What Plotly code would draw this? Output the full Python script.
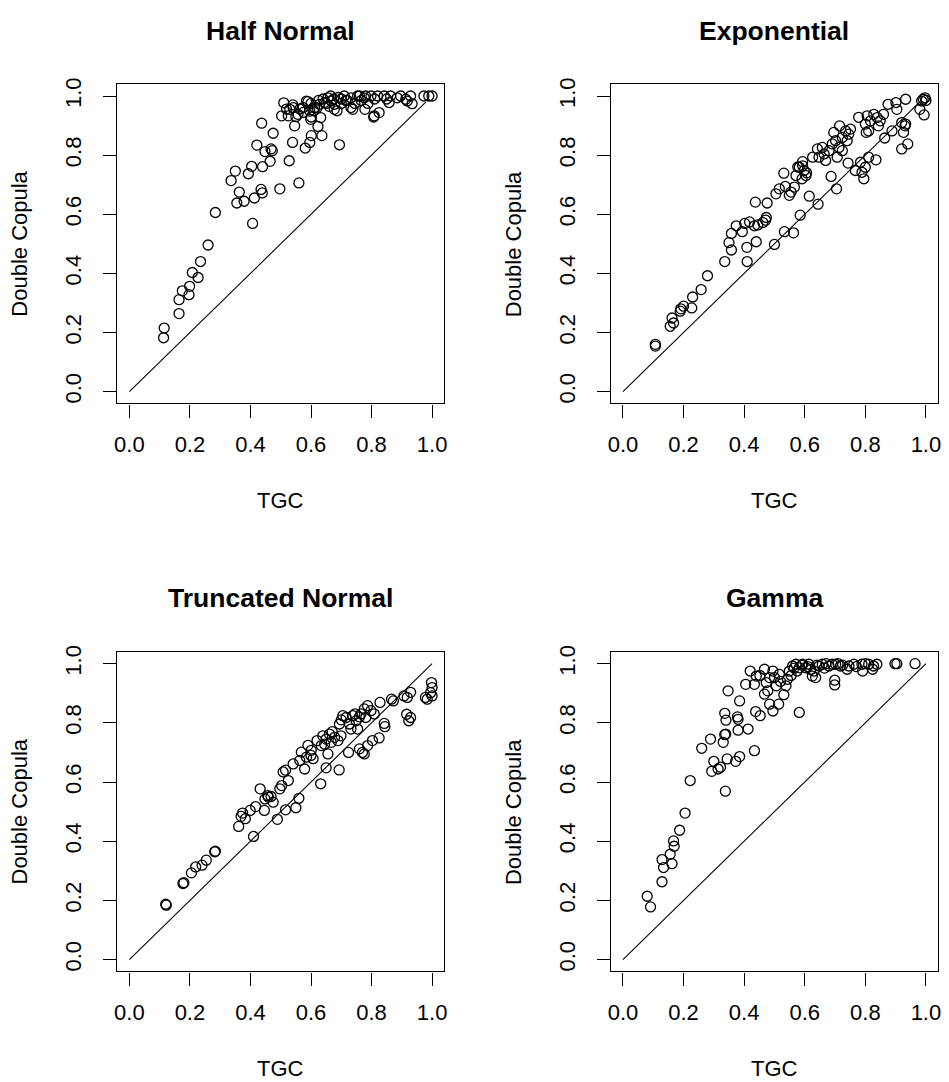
import plotly.graph_objects as go

# ---------------- data ----------------
titles = ["Half Normal", "Exponential", "Truncated Normal", "Gamma"]
x_label = "TGC"
y_label = "Double Copula"
tick_vals = [0.0, 0.2, 0.4, 0.6, 0.8, 1.0]
tick_text = ["0.0", "0.2", "0.4", "0.6", "0.8", "1.0"]
diag_end = [0.98, 0.985, 1.0, 1.0]

half_normal = [
    (0.113, 0.182), (0.115, 0.215), (0.164, 0.264), (0.164, 0.311), (0.175, 0.341), (0.197, 0.328),
    (0.199, 0.356), (0.208, 0.403), (0.227, 0.386), (0.235, 0.440), (0.260, 0.496), (0.284, 0.606),
    (0.407, 0.569), (0.336, 0.714), (0.350, 0.746), (0.363, 0.675), (0.355, 0.638), (0.379, 0.644),
    (0.393, 0.737), (0.404, 0.762), (0.413, 0.655), (0.435, 0.684), (0.439, 0.672), (0.440, 0.761),
    (0.465, 0.779), (0.421, 0.834), (0.448, 0.812), (0.468, 0.821), (0.472, 0.815), (0.437, 0.908),
    (0.475, 0.874), (0.497, 0.686), (0.528, 0.781), (0.539, 0.843), (0.560, 0.706), (0.546, 0.899),
    (0.581, 0.824), (0.596, 0.843), (0.601, 0.866), (0.623, 0.897), (0.636, 0.866), (0.694, 0.835),
    (0.510, 0.977), (0.503, 0.933), (0.525, 0.933), (0.541, 0.961), (0.557, 0.938), (0.574, 0.961),
    (0.590, 0.981), (0.596, 0.949), (0.599, 0.921), (0.632, 0.927), (0.519, 0.956), (0.563, 0.956),
    (0.585, 0.983), (0.601, 0.929), (0.612, 0.961), (0.628, 0.972), (0.645, 0.978), (0.656, 0.994),
    (0.667, 0.983), (0.678, 0.972), (0.686, 0.950), (0.677, 0.955), (0.660, 0.965), (0.700, 0.990),
    (0.710, 1.000), (0.720, 0.985), (0.732, 0.994), (0.738, 0.955), (0.732, 0.961), (0.745, 0.975),
    (0.754, 1.000), (0.766, 0.985), (0.776, 0.994), (0.778, 0.955), (0.788, 0.975), (0.798, 1.000),
    (0.807, 0.929), (0.809, 0.933), (0.810, 0.990), (0.820, 1.000), (0.825, 0.944), (0.842, 1.000),
    (0.850, 0.990), (0.858, 0.978), (0.863, 1.000), (0.885, 0.994), (0.896, 1.000), (0.913, 0.989),
    (0.918, 0.983), (0.929, 1.000), (0.934, 0.974), (0.973, 1.000), (0.989, 1.000), (1.000, 1.000),
    (0.640, 0.990), (0.625, 0.985), (0.650, 0.975), (0.665, 1.000), (0.690, 0.995), (0.700, 0.975),
    (0.715, 0.985), (0.600, 0.975), (0.610, 0.950), (0.575, 0.945), (0.550, 0.930), (0.530, 0.955),
    (0.675, 0.990), (0.760, 1.000), (0.780, 1.000), (0.620, 0.960), (0.540, 0.970),
]

exponential = [
    (0.107, 0.160), (0.107, 0.154), (0.156, 0.221), (0.162, 0.249), (0.167, 0.232), (0.189, 0.272),
    (0.200, 0.289), (0.191, 0.280), (0.227, 0.283), (0.230, 0.320), (0.258, 0.345), (0.279, 0.392),
    (0.336, 0.440), (0.350, 0.504), (0.358, 0.479), (0.358, 0.535), (0.374, 0.561), (0.394, 0.541),
    (0.402, 0.569), (0.418, 0.574), (0.409, 0.488), (0.410, 0.440), (0.440, 0.507), (0.434, 0.561),
    (0.445, 0.564), (0.462, 0.572), (0.473, 0.589), (0.471, 0.580), (0.437, 0.641), (0.476, 0.638),
    (0.500, 0.498), (0.533, 0.541), (0.563, 0.537), (0.585, 0.597), (0.505, 0.669), (0.516, 0.686),
    (0.536, 0.694), (0.549, 0.664), (0.555, 0.675), (0.566, 0.692), (0.531, 0.739), (0.571, 0.731),
    (0.582, 0.759), (0.593, 0.764), (0.598, 0.748), (0.604, 0.731), (0.591, 0.720), (0.577, 0.760),
    (0.606, 0.740), (0.593, 0.778), (0.615, 0.661), (0.644, 0.634), (0.687, 0.728), (0.705, 0.686),
    (0.626, 0.793), (0.642, 0.821), (0.658, 0.826), (0.664, 0.804), (0.669, 0.782), (0.647, 0.793),
    (0.680, 0.815), (0.691, 0.838), (0.702, 0.849), (0.713, 0.826), (0.724, 0.815), (0.696, 0.877),
    (0.715, 0.899), (0.724, 0.860), (0.735, 0.882), (0.745, 0.871), (0.751, 0.888), (0.740, 0.849),
    (0.707, 0.793), (0.743, 0.773), (0.767, 0.748), (0.784, 0.776), (0.789, 0.742), (0.795, 0.720),
    (0.811, 0.793), (0.835, 0.784), (0.800, 0.759), (0.778, 0.928), (0.800, 0.905), (0.806, 0.933),
    (0.817, 0.916), (0.828, 0.938), (0.839, 0.927), (0.849, 0.916), (0.860, 0.938), (0.811, 0.882),
    (0.803, 0.877), (0.843, 0.899), (0.864, 0.858), (0.888, 0.882), (0.875, 0.972), (0.901, 0.978),
    (0.904, 0.955), (0.933, 0.989), (0.920, 0.821), (0.940, 0.838), (0.926, 0.877), (0.931, 0.899),
    (0.920, 0.910), (0.933, 0.905), (0.980, 0.955), (0.994, 0.936), (0.986, 0.983), (0.997, 0.994),
    (0.991, 0.989), (1.000, 0.985),
]

truncated_normal = [
    (0.120, 0.187), (0.122, 0.184), (0.177, 0.257), (0.180, 0.260), (0.205, 0.293), (0.219, 0.313),
    (0.240, 0.319), (0.254, 0.336), (0.282, 0.364), (0.284, 0.366), (0.361, 0.450), (0.369, 0.484),
    (0.374, 0.495), (0.383, 0.476), (0.399, 0.504), (0.417, 0.517), (0.446, 0.504), (0.432, 0.577),
    (0.410, 0.416), (0.448, 0.543), (0.457, 0.554), (0.468, 0.551), (0.475, 0.532), (0.459, 0.549),
    (0.489, 0.474), (0.516, 0.506), (0.550, 0.513), (0.560, 0.545), (0.497, 0.577), (0.503, 0.588),
    (0.525, 0.605), (0.508, 0.634), (0.516, 0.640), (0.541, 0.661), (0.563, 0.673), (0.568, 0.701),
    (0.579, 0.644), (0.585, 0.684), (0.590, 0.724), (0.601, 0.707), (0.607, 0.679), (0.632, 0.594),
    (0.650, 0.648), (0.656, 0.695), (0.693, 0.641), (0.634, 0.723), (0.639, 0.756), (0.650, 0.745),
    (0.661, 0.762), (0.667, 0.734), (0.678, 0.751), (0.689, 0.740), (0.699, 0.756), (0.645, 0.728),
    (0.694, 0.796), (0.705, 0.824), (0.716, 0.818), (0.727, 0.796), (0.738, 0.824), (0.749, 0.807),
    (0.754, 0.779), (0.732, 0.779), (0.765, 0.830), (0.776, 0.847), (0.787, 0.858), (0.798, 0.841),
    (0.809, 0.830), (0.781, 0.818), (0.724, 0.700), (0.760, 0.712), (0.770, 0.700), (0.776, 0.695),
    (0.787, 0.723), (0.803, 0.740), (0.825, 0.749), (0.828, 0.869), (0.842, 0.798), (0.844, 0.787),
    (0.866, 0.880), (0.872, 0.874), (0.907, 0.891), (0.918, 0.886), (0.929, 0.903), (0.916, 0.829),
    (0.929, 0.818), (0.923, 0.807), (0.978, 0.886), (0.984, 0.880), (0.998, 0.936), (1.000, 0.919),
    (0.995, 0.902), (1.000, 0.891), (0.600, 0.690), (0.620, 0.740), (0.670, 0.770), (0.745, 0.830),
    (0.760, 0.820), (0.700, 0.810),
]

gamma = [
    (0.080, 0.214), (0.091, 0.178), (0.129, 0.263), (0.129, 0.338), (0.134, 0.311), (0.156, 0.356),
    (0.162, 0.324), (0.167, 0.401), (0.169, 0.383), (0.187, 0.437), (0.205, 0.495), (0.222, 0.605),
    (0.338, 0.569), (0.260, 0.714), (0.289, 0.745), (0.293, 0.636), (0.300, 0.670), (0.314, 0.644),
    (0.322, 0.650), (0.331, 0.734), (0.339, 0.762), (0.336, 0.760), (0.344, 0.678), (0.372, 0.670),
    (0.385, 0.686), (0.336, 0.832), (0.340, 0.809), (0.347, 0.908), (0.378, 0.820), (0.380, 0.812),
    (0.380, 0.775), (0.413, 0.779), (0.385, 0.874), (0.434, 0.706), (0.438, 0.838), (0.453, 0.824),
    (0.405, 0.930), (0.434, 0.930), (0.420, 0.975), (0.440, 0.958), (0.467, 0.981), (0.473, 0.936),
    (0.484, 0.953), (0.495, 0.975), (0.506, 0.925), (0.478, 0.908), (0.467, 0.897), (0.484, 0.863),
    (0.495, 0.840), (0.514, 0.863), (0.531, 0.895), (0.538, 0.925), (0.500, 0.953), (0.516, 0.964),
    (0.543, 0.947), (0.582, 0.835), (0.549, 0.975), (0.560, 0.992), (0.571, 0.998), (0.582, 0.986),
    (0.593, 0.998), (0.604, 0.986), (0.614, 0.998), (0.625, 0.958), (0.636, 0.953), (0.631, 0.975),
    (0.647, 0.992), (0.658, 0.998), (0.680, 0.992), (0.691, 0.998), (0.702, 0.998), (0.718, 0.992),
    (0.740, 0.981), (0.746, 0.992), (0.762, 0.998), (0.789, 0.998), (0.811, 0.998), (0.827, 0.992),
    (0.838, 0.998), (0.791, 0.975), (0.824, 0.981), (0.898, 1.000), (0.904, 1.000), (0.964, 1.000),
    (0.699, 0.944), (0.699, 0.928), (0.555, 0.960), (0.565, 0.985), (0.575, 0.975), (0.590, 0.995),
    (0.610, 0.990), (0.620, 0.980), (0.640, 0.995), (0.665, 0.985), (0.670, 1.000), (0.710, 1.000),
    (0.725, 0.995), (0.770, 0.990), (0.800, 1.000), (0.452, 0.960), (0.520, 0.940),
]

panels = [half_normal, exponential, truncated_normal, gamma]

# ---------------- layout geometry (pixels of the 949 x 1082 page) ----------------
W, H = 949, 1082
box_x = [(115, 444), (611.7, 941)]          # left / right column plot boxes
box_y = [(77.7, 399), (649, 970.7)]          # top / bottom row plot boxes
FONT = "Liberation Sans, Arial, Helvetica, sans-serif"

fig = go.Figure()
layout = dict(
    width=W, height=H, margin=dict(l=0, r=0, t=0, b=0),
    paper_bgcolor="white", plot_bgcolor="white", showlegend=False,
    font=dict(family=FONT, color="black", size=22),
)
annotations = []

for i, (title, pts) in enumerate(zip(titles, panels)):
    r, c = divmod(i, 2)
    n = i + 1
    xa = "x" if n == 1 else f"x{n}"
    ya = "y" if n == 1 else f"y{n}"
    x0, x1 = box_x[c]
    yt, yb = box_y[r]

    xs = [p[0] for p in pts]
    ys = [p[1] for p in pts]
    fig.add_trace(go.Scatter(
        x=xs, y=ys, mode="markers", xaxis=xa, yaxis=ya,
        marker=dict(symbol="circle-open", size=10, color="black", line=dict(width=1.3, color="black")),
        hoverinfo="x+y",
    ))
    fig.add_trace(go.Scatter(
        x=[0, diag_end[i]], y=[0, diag_end[i]], mode="lines", xaxis=xa, yaxis=ya,
        line=dict(color="black", width=1.1), hoverinfo="skip",
    ))

    axis_common = dict(
        range=[-0.04, 1.04], tickvals=tick_vals, ticktext=tick_text,
        ticks="outside", ticklen=13, tickwidth=1, tickcolor="black",
        showline=True, mirror=True, linecolor="black", linewidth=1.2,
        showgrid=False, zeroline=False, fixedrange=True,
        tickfont=dict(family=FONT, size=22, color="black"),
    )
    layout["xaxis" if n == 1 else f"xaxis{n}"] = dict(
        axis_common, domain=[x0 / W, x1 / W], anchor=ya, ticklabelstandoff=8,
    )
    layout["yaxis" if n == 1 else f"yaxis{n}"] = dict(
        axis_common, domain=[1 - yb / H, 1 - yt / H], anchor=xa, tickangle=-90, ticklabelstandoff=13,
    )

    cx = (x0 + x1) / 2
    cy = (yt + yb) / 2
    annotations.append(dict(
        text=f"<b>{title}</b>", x=cx / W, y=1 - (yt - 54) / H, xref="paper", yref="paper",
        xanchor="center", yanchor="middle", showarrow=False,
        font=dict(family=FONT, size=26.5, color="black"),
    ))
    annotations.append(dict(
        text=x_label, x=cx / W, y=1 - (yb + 98) / H, xref="paper", yref="paper",
        xanchor="center", yanchor="middle", showarrow=False,
        font=dict(family=FONT, size=22, color="black"),
    ))
    annotations.append(dict(
        text=y_label, x=(x0 - 98) / W, y=1 - cy / H, xref="paper", yref="paper",
        xanchor="center", yanchor="middle", showarrow=False, textangle=-90,
        font=dict(family=FONT, size=22, color="black"),
    ))

layout["annotations"] = annotations
fig.update_layout(**layout)
fig.write_html("out.html", config={"displayModeBar": False},
               post_script="document.body.style.margin='0';document.body.style.overflow='hidden';")
